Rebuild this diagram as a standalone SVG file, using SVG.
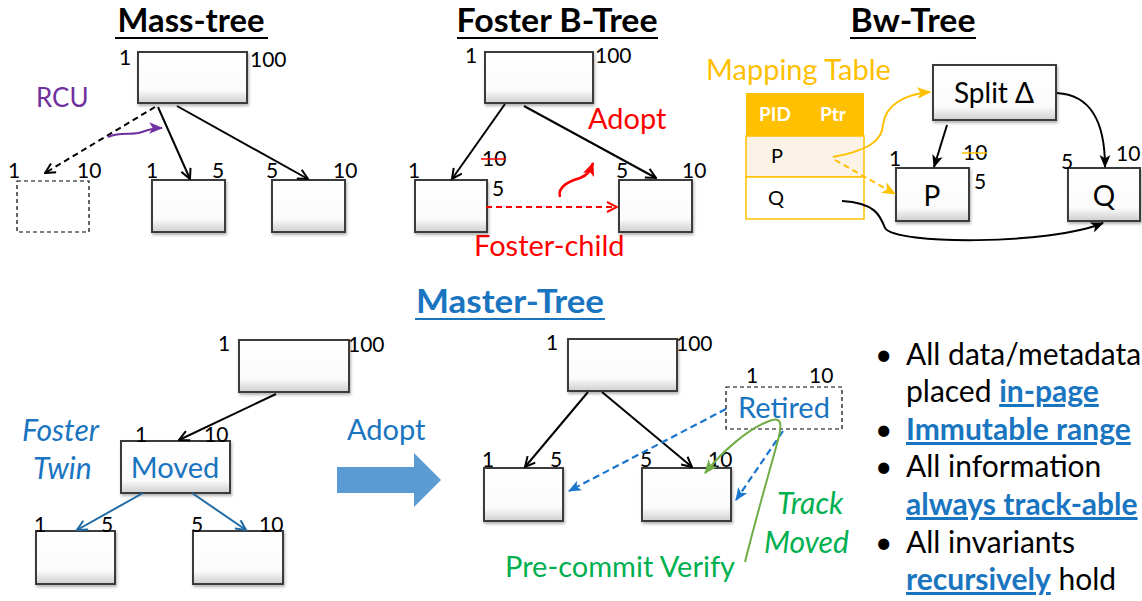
<svg xmlns="http://www.w3.org/2000/svg" width="1142" height="601" viewBox="0 0 1142 601">
<defs>
<linearGradient id="bg" x1="0" y1="0" x2="0" y2="1">
<stop offset="0" stop-color="#ffffff"/>
<stop offset="0.75" stop-color="#fbfbfb"/>
<stop offset="1" stop-color="#cfcfcf"/>
</linearGradient>
<filter id="sh" x="-10%" y="-10%" width="130%" height="140%">
<feDropShadow dx="1" dy="2" stdDeviation="1.5" flood-color="#000" flood-opacity="0.3"/>
</filter>
<marker id="aK" viewBox="0 0 12 12" refX="11" refY="6" markerWidth="12" markerHeight="12" markerUnits="userSpaceOnUse" orient="auto">
<path d="M1,1 L11,6 L1,11" fill="none" stroke="#000" stroke-width="2"/>
</marker>
<marker id="aKf" viewBox="0 0 12 12" refX="11" refY="6" markerWidth="13" markerHeight="13" markerUnits="userSpaceOnUse" orient="auto">
<path d="M0,1 L12,6 L0,11 L3,6 Z" fill="#000"/>
</marker>
<marker id="aB" viewBox="0 0 12 12" refX="11" refY="6" markerWidth="12" markerHeight="12" markerUnits="userSpaceOnUse" orient="auto">
<path d="M1,1 L11,6 L1,11" fill="none" stroke="#1F6AA5" stroke-width="2"/>
</marker>
<marker id="aBd" viewBox="0 0 12 12" refX="11" refY="6" markerWidth="13" markerHeight="13" markerUnits="userSpaceOnUse" orient="auto">
<path d="M0,1 L12,6 L0,11 L3,6 Z" fill="#1A75CC"/>
</marker>
<marker id="aR" viewBox="0 0 12 12" refX="11" refY="6" markerWidth="12" markerHeight="12" markerUnits="userSpaceOnUse" orient="auto">
<path d="M1,1 L11,6 L1,11" fill="none" stroke="#FF0000" stroke-width="2"/>
</marker>
<marker id="aRf" viewBox="0 0 12 12" refX="11" refY="6" markerWidth="14" markerHeight="14" markerUnits="userSpaceOnUse" orient="auto">
<path d="M0,1 L12,6 L0,11 L3,6 Z" fill="#FF0000"/>
</marker>
<marker id="aP" viewBox="0 0 12 12" refX="11" refY="6" markerWidth="14" markerHeight="14" markerUnits="userSpaceOnUse" orient="auto">
<path d="M0,1 L12,6 L0,11 L3,6 Z" fill="#7030A0"/>
</marker>
<marker id="aO" viewBox="0 0 12 12" refX="11" refY="6" markerWidth="14" markerHeight="14" markerUnits="userSpaceOnUse" orient="auto">
<path d="M0,1 L12,6 L0,11 L3,6 Z" fill="#FFC000"/>
</marker>
<marker id="aG" viewBox="0 0 12 12" refX="11" refY="6" markerWidth="14" markerHeight="14" markerUnits="userSpaceOnUse" orient="auto">
<path d="M0,1 L12,6 L0,11 L3,6 Z" fill="#70AD47"/>
</marker>
</defs>
<style>
text{font-family:Lato,"Open Sans","Liberation Sans",sans-serif}
.bx{fill:url(#bg);stroke:#3a3a3a;stroke-width:2;filter:url(#sh)}
.dbx{fill:#fff;stroke:#000;stroke-width:1.2;stroke-dasharray:4,3}
.n{font-size:21px;fill:#000}
.ttl{font-size:32px;font-weight:bold;fill:#000;text-anchor:middle}
.ul{stroke:#000;stroke-width:2}
.k{stroke:#000;stroke-width:2;fill:none}
.lb{font-size:29px}
.bul{font-size:30px;fill:#000}
.hb{fill:#1A75C0;font-weight:bold;text-decoration:underline}
</style>
<rect width="1142" height="601" fill="#fff"/>

<!-- Mass-tree -->
<g id="mass-tree">
<text class="ttl" x="191" y="32" textLength="147" lengthAdjust="spacingAndGlyphs">Mass-tree</text>
<line class="ul" x1="115" y1="38" x2="268" y2="38"/>
<text x="36" y="107" font-size="26" fill="#7030A0">RCU</text>
</g>
<g id="mt-root">
<rect class="bx" x="138" y="52" width="109" height="51"/>
<text class="n" x="119" y="65">1</text>
<text class="n" x="250" y="67">100</text>
</g>
<g id="mt-old">
<rect class="dbx" x="17" y="181" width="72" height="51"/>
<text class="n" x="8" y="178">1</text>
<text class="n" x="77" y="178">10</text>
</g>
<g id="mt-c1">
<rect class="bx" x="152" y="180" width="73" height="52"/>
<text class="n" x="146" y="178">1</text>
<text class="n" x="212" y="178">5</text>
</g>
<g id="mt-c2">
<rect class="bx" x="272" y="180" width="73" height="52"/>
<text class="n" x="266" y="178">5</text>
<text class="n" x="333" y="178">10</text>
</g>

<!-- Foster B-Tree -->
<g id="foster-btree">
<text class="ttl" x="557" y="32" textLength="201" lengthAdjust="spacingAndGlyphs">Foster B-Tree</text>
<line class="ul" x1="457" y1="38" x2="658" y2="38"/>
<text class="lb" x="588" y="129" fill="#FF0000">Adopt</text>
<text class="lb" x="474" y="256" fill="#FF0000">Foster-child</text>
</g>
<g id="fb-root">
<rect class="bx" x="485" y="52" width="108" height="51"/>
<text class="n" x="465" y="63">1</text>
<text class="n" x="595" y="63">100</text>
</g>
<g id="fb-c1">
<rect class="bx" x="415" y="180" width="72" height="52"/>
<text class="n" x="408" y="178">1</text>
<text class="n" x="482" y="166" fill="#FF0000">10</text>
<line x1="481" y1="159" x2="506" y2="159" stroke="#FF0000" stroke-width="1.5"/>
<text class="n" x="492" y="196" fill="#FF0000">5</text>
</g>
<g id="fb-c2">
<rect class="bx" x="619" y="180" width="73" height="52"/>
<text class="n" x="616" y="178">5</text>
<text class="n" x="682" y="178">10</text>
</g>

<!-- Bw-Tree -->
<g id="bw-tree">
<text class="ttl" x="913" y="32" textLength="125" lengthAdjust="spacingAndGlyphs">Bw-Tree</text>
<line class="ul" x1="850" y1="38" x2="976" y2="38"/>
<text class="lb" x="706" y="80" fill="#FFC000">Mapping Table</text>
</g>
<g id="mapping-table">
<rect x="746" y="93" width="118" height="43" fill="#FFC000"/>
<rect x="746" y="136" width="118" height="41" fill="#FDF2E6" stroke="#FFC000" stroke-width="1.5"/>
<rect x="746" y="177" width="118" height="42" fill="#fff" stroke="#FFC000" stroke-width="1.5"/>
<text x="759" y="121" font-size="19" font-weight="bold" fill="#fff">PID</text>
<text x="820" y="121" font-size="19" font-weight="bold" fill="#fff">Ptr</text>
<text x="771" y="163" font-size="20" fill="#000">P</text>
<text x="768" y="205" font-size="20" fill="#000">Q</text>
</g>
<g id="bw-split">
<rect class="bx" x="933" y="65" width="123" height="55"/>
<text x="994" y="103" font-size="28" fill="#000" text-anchor="middle">Split Δ</text>
</g>
<g id="bw-p">
<rect class="bx" x="896" y="168" width="73" height="53"/>
<text x="932" y="206" font-size="28" fill="#000" text-anchor="middle">P</text>
<text class="n" x="889" y="166">1</text>
<text class="n" x="963" y="160" fill="#FFC000">10</text>
<line x1="962" y1="153" x2="987" y2="153" stroke="#FFC000" stroke-width="1.5"/>
<text class="n" x="974" y="189" fill="#FFC000">5</text>
</g>
<g id="bw-q">
<rect class="bx" x="1068" y="168" width="72" height="53"/>
<text x="1104" y="206" font-size="28" fill="#000" text-anchor="middle">Q</text>
<text class="n" x="1061" y="169">5</text>
<text class="n" x="1116" y="161">10</text>
</g>

<!-- Master-Tree -->
<g id="master-tree">
<text x="510" y="313" font-size="32" font-weight="bold" fill="#1A75C0" text-anchor="middle" textLength="188" lengthAdjust="spacingAndGlyphs">Master-Tree</text>
<line x1="415" y1="319" x2="605" y2="319" stroke="#1A75C0" stroke-width="2"/>
<text x="22" y="441" font-size="30" font-style="italic" fill="#1A75C0">Foster</text>
<text x="33" y="479" font-size="30" font-style="italic" fill="#1A75C0">Twin</text>
<text x="347" y="440" font-size="29" fill="#1A75C0">Adopt</text>
<path d="M337,467 L414,467 L414,453 L441,480 L414,507 L414,493 L337,493 Z" fill="#5B9BD5"/>
</g>
<g id="ml-root">
<rect class="bx" x="239" y="340" width="110" height="52"/>
<text class="n" x="218" y="351">1</text>
<text class="n" x="348" y="352">100</text>
</g>
<g id="ml-moved">
<rect class="bx" x="121" y="441" width="109" height="52"/>
<text x="175" y="478" font-size="29" fill="#1A75C0" text-anchor="middle">Moved</text>
<text class="n" x="135" y="442">1</text>
<text class="n" x="204" y="442">10</text>
</g>
<g id="ml-c1">
<rect class="bx" x="36" y="531" width="79" height="53"/>
<text class="n" x="34" y="532">1</text>
<text class="n" x="101" y="532">5</text>
</g>
<g id="ml-c2">
<rect class="bx" x="193" y="531" width="90" height="53"/>
<text class="n" x="191" y="532">5</text>
<text class="n" x="259" y="532">10</text>
</g>
<g id="mr-root">
<rect class="bx" x="568" y="339" width="109" height="52"/>
<text class="n" x="546" y="350">1</text>
<text class="n" x="676" y="351">100</text>
</g>
<g id="mr-retired">
<rect class="dbx" x="726" y="387" width="116" height="42"/>
<text x="784" y="418" font-size="29" fill="#1A75C0" text-anchor="middle">Retired</text>
<text class="n" x="746" y="383">1</text>
<text class="n" x="809" y="383">10</text>
</g>
<g id="mr-c1">
<rect class="bx" x="484" y="468" width="79" height="53"/>
<text class="n" x="482" y="467">1</text>
<text class="n" x="550" y="467">5</text>
</g>
<g id="mr-c2">
<rect class="bx" x="642" y="468" width="89" height="53"/>
<text class="n" x="640" y="467">5</text>
<text class="n" x="708" y="467">10</text>
</g>
<g id="annotations">
<text x="777" y="514" font-size="30" font-style="italic" fill="#00B050">Track</text>
<text x="764" y="553" font-size="30" font-style="italic" fill="#00B050">Moved</text>
<text x="505" y="577" font-size="29" fill="#00B050">Pre-commit Verify</text>
</g>

<!-- Bullets -->
<g id="bullets">
<text class="bul" x="875" y="365">•</text>
<text class="bul" x="906" y="365">All data/metadata</text>
<text class="bul" x="906" y="402">placed <tspan class="hb">in-page</tspan></text>
<text class="bul" x="875" y="440" fill="#1A75C0">•</text>
<text class="bul hb" x="906" y="440">Immutable range</text>
<text class="bul" x="875" y="477">•</text>
<text class="bul" x="906" y="477">All information</text>
<text class="bul hb" x="906" y="515">always track-able</text>
<text class="bul" x="875" y="553">•</text>
<text class="bul" x="906" y="553">All invariants</text>
<text class="bul" x="906" y="590"><tspan class="hb">recursively</tspan> hold</text>
</g>

<!-- Connectors -->
<g id="connectors">
<line x1="155" y1="107" x2="45" y2="173" class="k" stroke-dasharray="6,4" marker-end="url(#aK)"/>
<line x1="158" y1="107" x2="190" y2="179" class="k" marker-end="url(#aK)"/>
<line x1="177" y1="106" x2="308" y2="179" class="k" marker-end="url(#aK)"/>
<path d="M108,137 C122,131 132,136 142,132 C150,129 155,128 162,128" fill="none" stroke="#7030A0" stroke-width="2" marker-end="url(#aP)"/>

<line x1="505" y1="104" x2="452" y2="179" class="k" marker-end="url(#aK)"/>
<line x1="524" y1="106" x2="656" y2="178" class="k" marker-end="url(#aK)"/>
<line x1="486" y1="207" x2="617" y2="207" stroke="#FF0000" stroke-width="2" stroke-dasharray="6,4" marker-end="url(#aR)"/>
<path d="M560,197 C557,186 570,181 580,178 C588,175 590,171 593,163" fill="none" stroke="#FF0000" stroke-width="2.5" marker-end="url(#aRf)"/>

<path d="M833,157 C870,150 882,140 883,125 C885,105 905,94 930,92" fill="none" stroke="#FFC000" stroke-width="2" marker-end="url(#aO)"/>
<line x1="835" y1="160" x2="895" y2="194" stroke="#FFC000" stroke-width="2" stroke-dasharray="6,4" marker-end="url(#aO)"/>
<line x1="947" y1="125" x2="934" y2="167" class="k" marker-end="url(#aKf)"/>
<path d="M1057,93 C1090,95 1105,120 1105,167" class="k" marker-end="url(#aKf)"/>
<path d="M842,201 C875,203 880,215 885,228 C895,245 1050,245 1103,223" class="k" marker-end="url(#aKf)"/>

<line x1="276" y1="394" x2="179" y2="440" class="k" marker-end="url(#aK)"/>
<line x1="143" y1="493" x2="77" y2="530" stroke="#1F6AA5" stroke-width="2" marker-end="url(#aB)"/>
<line x1="192" y1="493" x2="246" y2="530" stroke="#1F6AA5" stroke-width="2" marker-end="url(#aB)"/>

<line x1="588" y1="392" x2="525" y2="467" class="k" marker-end="url(#aK)"/>
<line x1="602" y1="392" x2="692" y2="467" class="k" marker-end="url(#aK)"/>
<line x1="726" y1="409" x2="569" y2="491" stroke="#1A75CC" stroke-width="2.2" stroke-dasharray="7,4" marker-end="url(#aBd)"/>
<line x1="783" y1="431" x2="736" y2="500" stroke="#1A75CC" stroke-width="2.2" stroke-dasharray="7,4" marker-end="url(#aBd)"/>
<path d="M745,562 C758,510 770,470 778,440 C783,422 780,418 772,420 C748,428 722,452 705,473" fill="none" stroke="#70AD47" stroke-width="2" marker-end="url(#aG)"/>
</g>
</svg>
